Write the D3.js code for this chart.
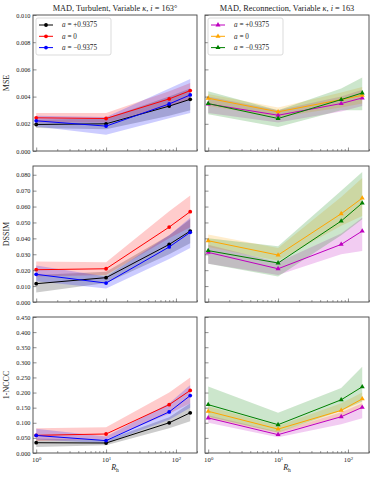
<!DOCTYPE html>
<html lang="en">
  <head>
    <meta charset="UTF-8" />
    <title>MAD metrics vs R_h</title>
    <script src="https://d3js.org/d3.v7.min.js"></script>
    <style>
      body { margin: 0; background: #fff; }
      text { font-family: "Liberation Serif", "DejaVu Serif", serif; fill: #222; }
    </style>
  </head>
  <body>
    <div id="viz"></div>
    <script>
      // R_h values (x axis)
      const rh = [1, 10, 80, 160];

      // spin labels / colours per column
      const spinLabels = ["+0.9375", "0", "\u22120.9375"];
      const leftColors = ["#000000", "#ff0000", "#0000ff"];
      const rightColors = ["#bf00bf", "#ffa500", "#008000"];

      // metric names + y tick lists
      const metrics = ["MSE", "DSSIM", "1-NCCC"];
      const yMax = [0.010, 0.0855, 0.45];
      const yTicks = [
        [0, 0.002, 0.004, 0.006, 0.008, 0.010],
        [0, 0.01, 0.02, 0.03, 0.04, 0.05, 0.06, 0.07, 0.08],
        [0, 0.05, 0.1, 0.15, 0.2, 0.25, 0.3, 0.35, 0.4, 0.45]
      ];
      const xMajor = [1, 10, 100];

      // ---- MSE, turbulent (a = +0.9375, 0, -0.9375)
      const mseTurbMean = [[0.00195, 0.0020, 0.0033, 0.0038], [0.00244, 0.00239, 0.00383, 0.00444], [0.00222, 0.00183, 0.00346, 0.00412]];
      const mseTurbLo = [[0.0017, 0.0016, 0.0026, 0.0030], [0.0021, 0.0021, 0.0033, 0.0038], [0.0018, 0.0012, 0.0024, 0.0028]];
      const mseTurbHi = [[0.0023, 0.0024, 0.0040, 0.0046], [0.0028, 0.0028, 0.0044, 0.0050], [0.0026, 0.0025, 0.0046, 0.0053]];
      // ---- MSE, reconnection
      const mseRecMean = [[0.00346, 0.00263, 0.00349, 0.0039], [0.00388, 0.00288, 0.00378, 0.0041], [0.00349, 0.00239, 0.00378, 0.00427]];
      const mseRecLo = [[0.0028, 0.0021, 0.0029, 0.0033], [0.0033, 0.0025, 0.0032, 0.0035], [0.0027, 0.00176, 0.0030, 0.0030]];
      const mseRecHi = [[0.0040, 0.0030, 0.0040, 0.0045], [0.0042, 0.0032, 0.0043, 0.0047], [0.0044, 0.0030, 0.0046, 0.0054]];

      // ---- DSSIM, turbulent
      const dssimTurbMean = [[0.0115, 0.0153, 0.0362, 0.0446], [0.0203, 0.0209, 0.0471, 0.0568], [0.0174, 0.0119, 0.0346, 0.0438]];
      const dssimTurbLo = [[0.0060, 0.0120, 0.0300, 0.0370], [0.0160, 0.0170, 0.0400, 0.0470], [0.0130, 0.0085, 0.0270, 0.0340]];
      const dssimTurbHi = [[0.0170, 0.0190, 0.0420, 0.0520], [0.0255, 0.0250, 0.0570, 0.0670], [0.0230, 0.0160, 0.0420, 0.0530]];
      // ---- DSSIM, reconnection
      const dssimRecMean = [[0.0312, 0.0209, 0.0362, 0.0446], [0.0385, 0.0295, 0.0555, 0.0653], [0.0323, 0.0245, 0.0509, 0.0622]];
      const dssimRecLo = [[0.0240, 0.0170, 0.0300, 0.0320], [0.0345, 0.0260, 0.0480, 0.0540], [0.0240, 0.0160, 0.0420, 0.0520]];
      const dssimRecHi = [[0.0360, 0.0250, 0.0430, 0.0530], [0.0425, 0.0340, 0.0660, 0.0780], [0.0400, 0.0350, 0.0700, 0.0817]];

      // ---- 1-NCCC, turbulent
      const ncccTurbMean = [[0.034, 0.033, 0.100, 0.133], [0.0585, 0.0629, 0.160, 0.207], [0.058, 0.041, 0.136, 0.190]];
      const ncccTurbLo = [[0.020, 0.026, 0.082, 0.105], [0.040, 0.045, 0.130, 0.165], [0.045, 0.032, 0.110, 0.150]];
      const ncccTurbHi = [[0.048, 0.042, 0.118, 0.165], [0.082, 0.085, 0.200, 0.250], [0.080, 0.055, 0.165, 0.225]];
      // ---- 1-NCCC, reconnection
      const ncccRecMean = [[0.116, 0.0607, 0.120, 0.151], [0.138, 0.079, 0.141, 0.179], [0.160, 0.0937, 0.176, 0.219]];
      const ncccRecLo = [[0.100, 0.052, 0.095, 0.115], [0.115, 0.065, 0.120, 0.150], [0.120, 0.068, 0.140, 0.170]];
      const ncccRecHi = [[0.125, 0.070, 0.135, 0.165], [0.155, 0.090, 0.165, 0.200], [0.220, 0.133, 0.215, 0.285]];

      const panels = [
        [[mseTurbMean, mseTurbLo, mseTurbHi], [mseRecMean, mseRecLo, mseRecHi]],
        [[dssimTurbMean, dssimTurbLo, dssimTurbHi], [dssimRecMean, dssimRecLo, dssimRecHi]],
        [[ncccTurbMean, ncccTurbLo, ncccTurbHi], [ncccRecMean, ncccRecLo, ncccRecHi]]
      ];

      const W = 374, H = 477;
      const colX = [33, 205], pw = 164;
      const rowY = [15, 166, 317], ph = 136;

      const svg = d3.select("#viz").append("svg").attr("width", W).attr("height", H);

      const x = d3.scaleLog().domain([0.9, 200]).range([0, pw]);
      const xMinor = [];
      [1, 10, 100].forEach(function (d) {
        for (let k = 2; k <= 9; k++) if (d * k <= 200) xMinor.push(d * k);
      });

      panels.forEach(function (row, r) {
        const y = d3.scaleLinear().domain([0, yMax[r]]).range([ph, 0]);
        row.forEach(function (set, c) {
          const g = svg.append("g").attr("transform", "translate(" + colX[c] + "," + rowY[r] + ")");
          const colors = c === 0 ? leftColors : rightColors;
          const [mean, lo, hi] = set;

          // bands and lines
          const area = d3.area()
            .x(function (d, i) { return x(rh[i]); })
            .y0(function (d) { return y(d[0]); })
            .y1(function (d) { return y(d[1]); });
          const line = d3.line()
            .x(function (d, i) { return x(rh[i]); })
            .y(function (d) { return y(d); });

          mean.forEach(function (m, s) {
            const band = lo[s].map(function (v, i) { return [v, hi[s][i]]; });
            g.append("path").attr("d", area(band))
              .attr("fill", colors[s]).attr("fill-opacity", 0.2).attr("stroke", "none");
          });
          mean.forEach(function (m, s) {
            g.append("path").attr("d", line(m))
              .attr("fill", "none").attr("stroke", colors[s]).attr("stroke-width", 1);
            m.forEach(function (v, i) {
              if (c === 0) {
                g.append("circle").attr("cx", x(rh[i])).attr("cy", y(v)).attr("r", 1.9)
                  .attr("fill", colors[s]);
              } else {
                g.append("path")
                  .attr("d", d3.symbol(d3.symbolTriangle, 11)())
                  .attr("transform", "translate(" + x(rh[i]) + "," + y(v) + ")")
                  .attr("fill", colors[s]);
              }
            });
          });

          // y axis, ticks inward
          const yAx = g.append("g").call(
            d3.axisLeft(y).tickValues(yTicks[r]).tickSize(-3.5).tickPadding(2.5)
              .tickFormat(c === 0 ? d3.format(".3f") : function () { return ""; })
          );
          yAx.select(".domain").remove();
          yAx.selectAll("line").attr("stroke", "#444").attr("stroke-width", 0.6);
          yAx.selectAll("text").attr("font-size", 6.3).attr("fill", "#222")
            .style("font-family", "'Liberation Serif', serif");

          // x axis, major + minor
          const xAx = g.append("g").attr("transform", "translate(0," + ph + ")").call(
            d3.axisBottom(x).tickValues(xMajor).tickSize(-3.5).tickPadding(3).tickFormat(function () { return ""; })
          );
          xAx.select(".domain").remove();
          xAx.selectAll("line").attr("stroke", "#444").attr("stroke-width", 0.6);
          const xAxMin = g.append("g").attr("transform", "translate(0," + ph + ")").call(
            d3.axisBottom(x).tickValues(xMinor).tickSize(-2).tickFormat(function () { return ""; })
          );
          xAxMin.select(".domain").remove();
          xAxMin.selectAll("line").attr("stroke", "#444").attr("stroke-width", 0.5);

          if (r === 2) {
            xAx.selectAll(".tick").each(function (d) {
              const t = d3.select(this).select("text").attr("font-size", 6.8).attr("dy", "0.9em")
                .style("font-family", "'Liberation Serif', serif");
              t.append("tspan").text("10");
              t.append("tspan").text(Math.round(Math.log10(d))).attr("font-size", 4.8).attr("dy", "-0.35em");
            });
            const xl = g.append("text").attr("x", pw / 2).attr("y", ph + 17).attr("text-anchor", "middle")
              .attr("font-size", 8);
            xl.append("tspan").text("R").attr("font-style", "italic");
            xl.append("tspan").text("h").attr("font-size", 5.5).attr("dy", "0.3em");
          }

          // frame
          g.append("rect").attr("width", pw).attr("height", ph)
            .attr("fill", "none").attr("stroke", "#444").attr("stroke-width", 0.9);

          if (c === 0) {
            svg.append("text")
              .attr("transform", "translate(9," + (rowY[r] + ph / 2) + ") rotate(-90)")
              .attr("text-anchor", "middle").attr("font-size", 8).text(metrics[r]);
          }

          // legend + title in top row
          if (r === 0) {
            const title = g.append("text").attr("x", pw / 2).attr("y", -4.5).attr("text-anchor", "middle")
              .attr("font-size", 8.3);
            title.append("tspan").text(c === 0 ? "MAD, Turbulent, Variable " : "MAD, Reconnection, Variable ");
            title.append("tspan").text("\u03ba").attr("font-style", "italic");
            title.append("tspan").text(", ");
            title.append("tspan").text("i").attr("font-style", "italic");
            title.append("tspan").text(c === 0 ? " = 163\u00b0" : " = 163");

            const lg = g.append("g").attr("transform", "translate(3,3)");
            lg.append("rect").attr("width", 75).attr("height", 37).attr("rx", 2)
              .attr("fill", "#fff").attr("fill-opacity", 0.85).attr("stroke", "#ccc").attr("stroke-width", 0.7);
            spinLabels.forEach(function (lab, s) {
              const yy = 7 + s * 11.3;
              lg.append("line").attr("x1", 3).attr("x2", 17).attr("y1", yy).attr("y2", yy)
                .attr("stroke", colors[s]).attr("stroke-width", 1);
              if (c === 0) {
                lg.append("circle").attr("cx", 10).attr("cy", yy).attr("r", 1.9).attr("fill", colors[s]);
              } else {
                lg.append("path").attr("d", d3.symbol(d3.symbolTriangle, 11)())
                  .attr("transform", "translate(10," + yy + ")").attr("fill", colors[s]);
              }
              const t = lg.append("text").attr("x", 26).attr("y", yy).attr("dy", "0.33em").attr("font-size", 7.2);
              t.append("tspan").text("a").attr("font-style", "italic");
              t.append("tspan").text(" = " + lab);
            });
          }
        });
      });
    </script>
  </body>
</html>
